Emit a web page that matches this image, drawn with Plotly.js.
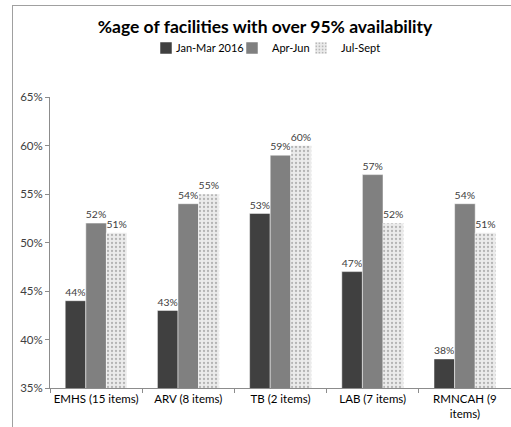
<!DOCTYPE html>
<html>
<head>
<meta charset="utf-8">
<script src="https://cdn.plot.ly/plotly-3.0.1.min.js"></script>
<style>
  html, body { margin: 0; padding: 0; background: #fff; overflow: hidden; }
  #wrap { position: relative; width: 511px; height: 427px; }
  #frame { position: absolute; left: 12px; top: 5px; width: 600px; height: 600px; border: 1px solid #a0a0a0; box-sizing: border-box; pointer-events: none; }
  #chart { position: absolute; left: 0; top: 0; width: 511px; height: 427px; }
</style>
</head>
<body>
<div id="wrap">
  <div id="frame"></div>
  <div id="chart"></div>
</div>
<script>
const categories = ["EMHS (15 items)", "ARV (8 items)", "TB (2 items)", "LAB (7 items)", "RMNCAH (9<br>items)"];
const seriesNames = ["Jan-Mar 2016", "Apr-Jun", "Jul-Sept"];
const janMar = [44, 43, 53, 47, 38];
const aprJun = [52, 54, 59, 57, 54];
const julSept = [51, 55, 60, 52, 51];
const yTickVals = [35, 40, 45, 50, 55, 60, 65];
const yTickText = ["35%", "40%", "45%", "50%", "55%", "60%", "65%"];

const FONT = "Lato, 'Open Sans', sans-serif";
const labelFont = { family: FONT, size: 11, color: "#404040" };

function barTrace(name, vals, marker, legendId) {
  return {
    type: "bar", name: name, x: categories, y: vals,
    text: vals.map(v => v + "%"), textposition: "outside",
    textfont: labelFont, outsidetextfont: labelFont, cliponaxis: false,
    marker: marker, hoverinfo: "skip", legend: legendId
  };
}

const data = [
  barTrace(seriesNames[0], janMar, { color: "#404040", line: { color: "#ffffff", width: 0.5 } }, "legend"),
  barTrace(seriesNames[1], aprJun, { color: "#808080", line: { color: "#ffffff", width: 0.5 } }, "legend2"),
  barTrace(seriesNames[2], julSept, {
    color: "#e6e6e6",
    line: { color: "#ffffff", width: 0.5 },
    pattern: { shape: ".", fgcolor: "#b4b4b4", bgcolor: "#ebebeb", size: 4, solidity: 0.25 }
  }, "legend3")
];

function legendAt(px) {
  return {
    orientation: "h", xref: "container", x: px / 511, xanchor: "left",
    yref: "container", y: 1 - 48 / 427, yanchor: "middle",
    font: { family: FONT, size: 11, color: "#000000" },
    itemwidth: 30, bgcolor: "rgba(0,0,0,0)"
  };
}

const layout = {
  width: 511, height: 427,
  margin: { l: 49.5, r: 0, t: 97, b: 39 },
  paper_bgcolor: "rgba(0,0,0,0)", plot_bgcolor: "rgba(0,0,0,0)",
  font: { family: FONT, size: 11, color: "#404040" },
  title: {
    text: "<b>%age of facilities with over 95% availability</b>",
    font: { family: FONT, size: 17.5, color: "#000000" },
    xref: "container", x: 265 / 511, xanchor: "center",
    yref: "container", y: 1 - 27 / 427, yanchor: "middle"
  },
  showlegend: true,
  legend: legendAt(146),
  legend2: legendAt(232),
  legend3: legendAt(301),
  barmode: "group", bargap: 0.33, bargroupgap: 0,
  xaxis: {
    type: "category", showgrid: false, showline: true, linecolor: "#8c8c8c", linewidth: 1,
    ticks: "outside", tickson: "boundaries", ticklen: 4, tickcolor: "#8c8c8c", tickangle: 0,
    tickfont: { family: FONT, size: 11.5, color: "#000000" }, fixedrange: true
  },
  yaxis: {
    range: [35, 65], tickvals: yTickVals, ticktext: yTickText, showgrid: false,
    showline: true, linecolor: "#8c8c8c", linewidth: 1,
    ticks: "outside", ticklen: 4, tickcolor: "#8c8c8c",
    tickfont: { family: FONT, size: 11.5, color: "#404040" }, fixedrange: true
  }
};

const gdEl = document.getElementById("chart");

function tightenLegend() {
  // tighten the gap between legend swatch and its label, as in the reference
  gdEl.querySelectorAll("text.legendtext").forEach(t => {
    if (t.getAttribute("x") !== "30") t.setAttribute("x", "30");
  });
}

const obs = new MutationObserver(tightenLegend);
obs.observe(gdEl, { childList: true, subtree: true, attributes: true, attributeFilter: ["x"] });

Plotly.newPlot(gdEl, data, layout, { displayModeBar: false, staticPlot: true }).then(() => {
  tightenLegend();
  gdEl.on && gdEl.on("plotly_afterplot", tightenLegend);
});
</script>
</body>
</html>
